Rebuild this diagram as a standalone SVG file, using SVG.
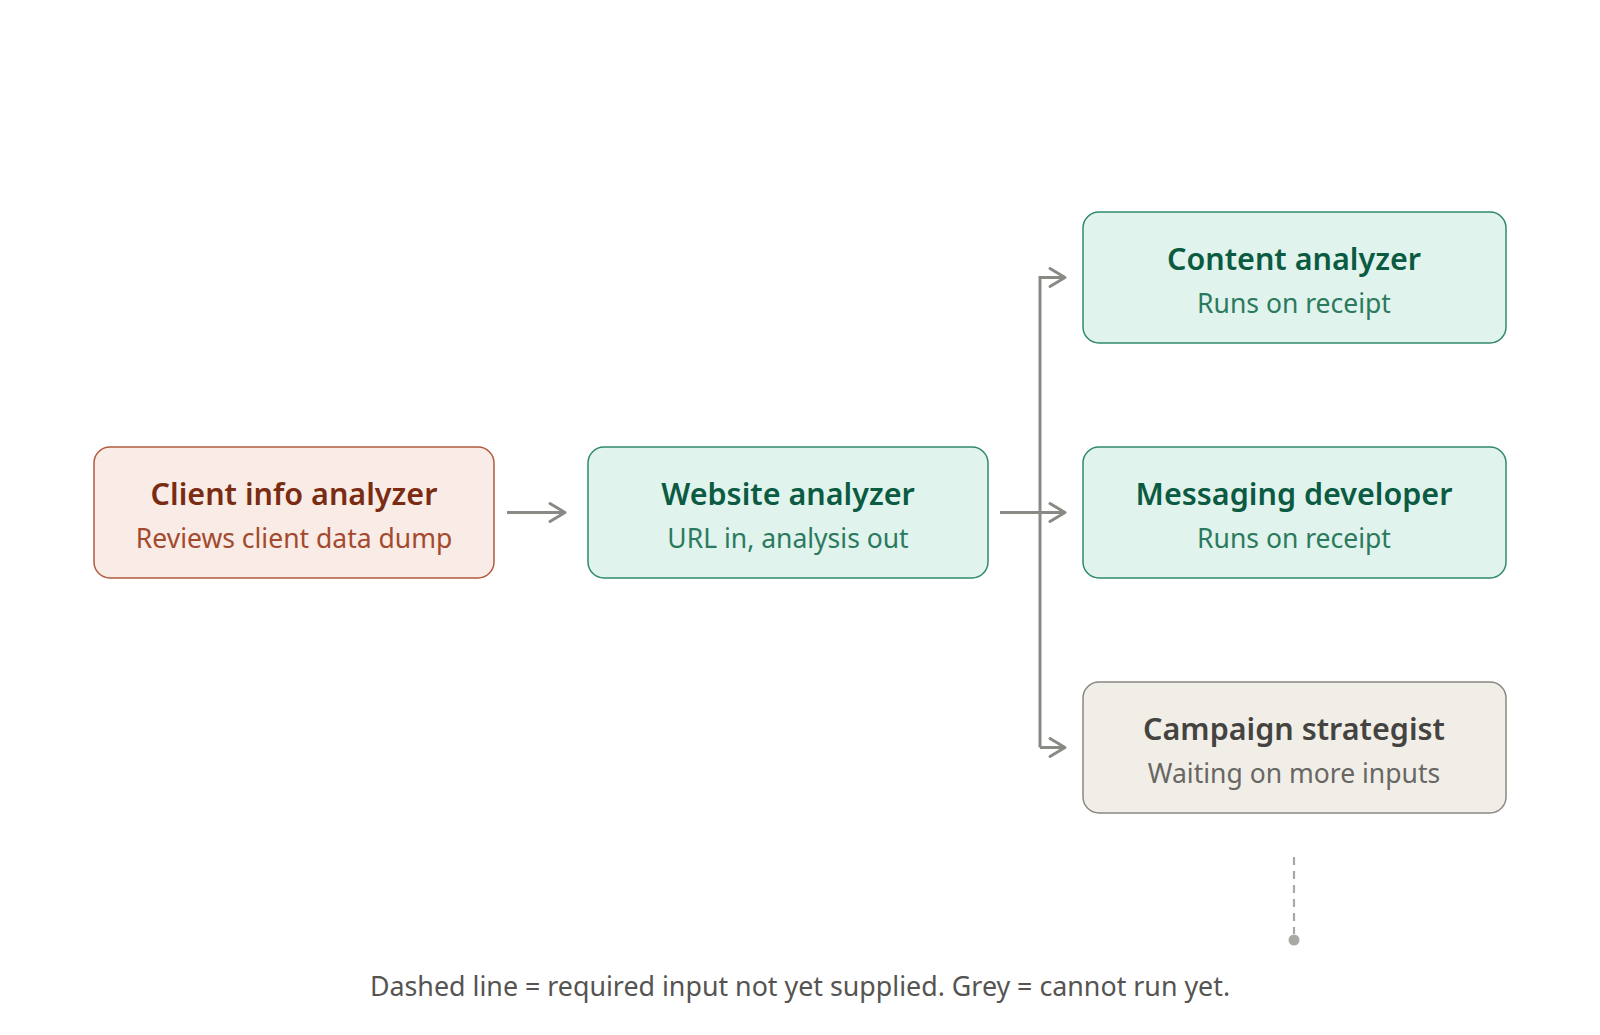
<svg xmlns="http://www.w3.org/2000/svg" width="1600" height="1035" viewBox="0 0 1600 1035">
<style>
  .box { stroke-width: 1.5; }
  .warm { fill: #f9ebe5; stroke: #b35a40; }
  .green { fill: #e0f3ec; stroke: #2f8a69; }
  .grey { fill: #f1eee8; stroke: #8a8884; }
  .title { font-family: "Noto Sans", "Open Sans", sans-serif; font-weight: 600; font-size: 30.5px; text-anchor: middle; }
  .sub { font-family: "Noto Sans", "Open Sans", sans-serif; font-weight: 400; font-size: 26.5px; text-anchor: middle; }
  .warm-t { fill: #7a2c13; }
  .warm-s { fill: #a34a2e; }
  .green-t { fill: #0b5a42; }
  .green-s { fill: #2b7a5e; }
  .grey-t { fill: #444340; }
  .grey-s { fill: #686763; }
  .conn { fill: none; stroke: #8a8a85; stroke-width: 3; }
  .head { fill: none; stroke: #8a8a85; stroke-width: 3; stroke-linecap: round; stroke-linejoin: round; }
  .dash { fill: none; stroke: #a8a8a4; stroke-width: 2.2; stroke-dasharray: 8 6; }
  .note { font-family: "Noto Sans", "Open Sans", sans-serif; font-size: 26.8px; fill: #555452; text-anchor: middle; }
</style>
<rect width="1600" height="1035" fill="#ffffff"/>
<g id="connectors">
  <line class="conn" x1="507" y1="512.5" x2="563" y2="512.5"/>
  <polyline class="head" points="550,503.5 565,512.5 550,521.5"/>
  <line class="conn" x1="1000" y1="512.5" x2="1063" y2="512.5"/>
  <polyline class="conn" points="1040,747.5 1040,277.5 1063,277.5"/>
  <line class="conn" x1="1040" y1="747.5" x2="1063" y2="747.5"/>
  <polyline class="head" points="1050,268.5 1065,277.5 1050,286.5"/>
  <polyline class="head" points="1050,503.5 1065,512.5 1050,521.5"/>
  <polyline class="head" points="1050,738.5 1065,747.5 1050,756.5"/>
  <line class="dash" x1="1294" y1="857" x2="1294" y2="934"/>
  <circle cx="1294" cy="940" r="5.5" fill="#a8a8a4"/>
</g>
<g id="client-info-analyzer">
  <rect class="box warm" x="94" y="447" width="400" height="131" rx="16"/>
  <text class="title warm-t" x="294" y="505">Client info analyzer</text>
  <text class="sub warm-s" x="294" y="548">Reviews client data dump</text>
</g>
<g id="website-analyzer">
  <rect class="box green" x="588" y="447" width="400" height="131" rx="16"/>
  <text class="title green-t" x="788" y="505">Website analyzer</text>
  <text class="sub green-s" x="788" y="548">URL in, analysis out</text>
</g>
<g id="content-analyzer">
  <rect class="box green" x="1083" y="212" width="423" height="131" rx="16"/>
  <text class="title green-t" x="1294" y="270">Content analyzer</text>
  <text class="sub green-s" x="1294" y="313">Runs on receipt</text>
</g>
<g id="messaging-developer">
  <rect class="box green" x="1083" y="447" width="423" height="131" rx="16"/>
  <text class="title green-t" x="1294" y="505">Messaging developer</text>
  <text class="sub green-s" x="1294" y="548">Runs on receipt</text>
</g>
<g id="campaign-strategist">
  <rect class="box grey" x="1083" y="682" width="423" height="131" rx="16"/>
  <text class="title grey-t" x="1294" y="740">Campaign strategist</text>
  <text class="sub grey-s" x="1294" y="783">Waiting on more inputs</text>
</g>
<text class="note" x="800" y="996">Dashed line = required input not yet supplied. Grey = cannot run yet.</text>
</svg>
